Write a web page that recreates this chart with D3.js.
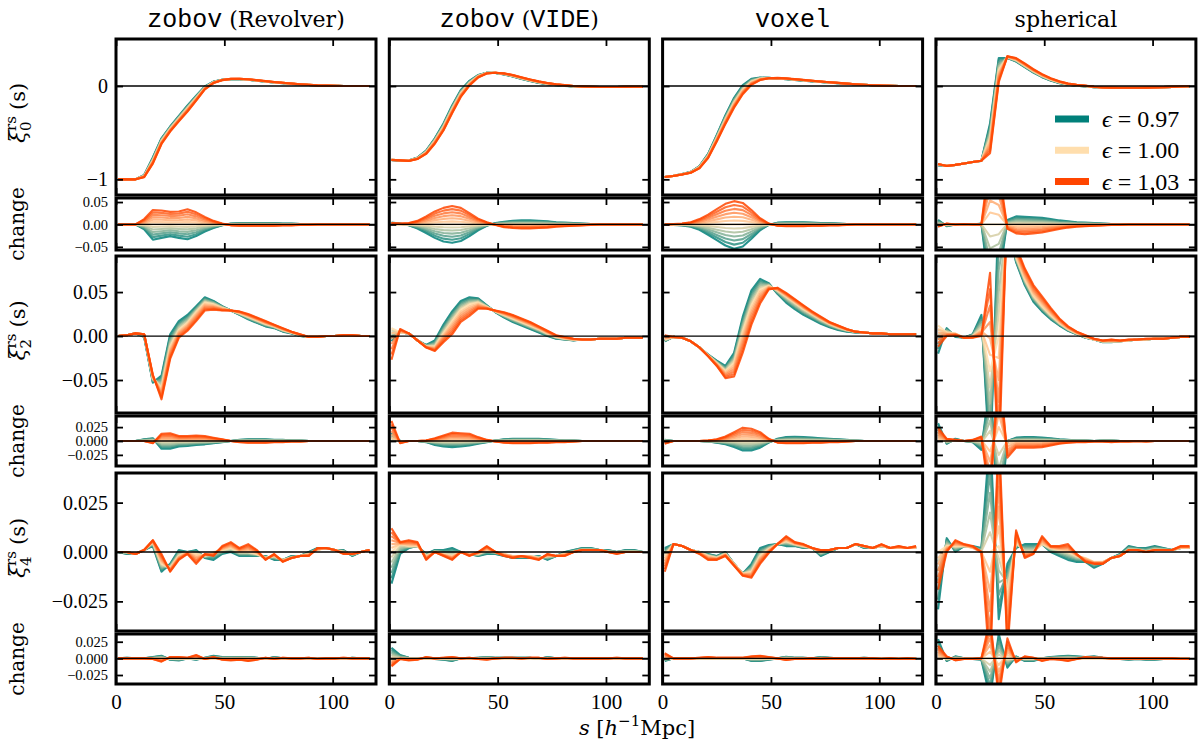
<!DOCTYPE html>
<html>
<head>
<meta charset="utf-8">
<script src="https://cdn.jsdelivr.net/npm/d3@7"></script>
<style>
  body { margin: 0; background: #fff; }
</style>
</head>
<body>
<svg id="chart" width="1200" height="745"></svg>
<script>
// ---- data ----
const sBins = [1, 5, 9, 13, 17, 21, 25, 29, 33, 37, 41, 45, 49, 53, 57, 61, 65, 69, 73, 77, 81, 85, 89, 93, 97, 101, 105, 109, 113, 117];
const epsilons = [0.97, 0.975, 0.98, 0.985, 0.99, 0.995, 1.0, 1.005, 1.01, 1.015, 1.02, 1.025, 1.03];
const legendEps = [0.97, 1.00, 1.03];
const estimators = ['revolver', 'vide', 'voxel', 'spherical'];
const xTicks = [0, 50, 100];

// monopole, eps = 1 curve and change at eps = 1.03 / 0.97
const xi0Revolver = [-1.0, -1.0, -1.0, -0.965, -0.80, -0.59, -0.46, -0.35, -0.24, -0.13, -0.02, 0.04, 0.065, 0.075, 0.075, 0.07, 0.06, 0.05, 0.04, 0.033, 0.025, 0.018, 0.012, 0.007, 0.004, 0.002, 0.001, 0, 0, 0];
const dxi0RevolverHi = [0, 0, 0, 0.012, 0.032, 0.031, 0.028, 0.029, 0.034, 0.027, 0.017, 0.008, 0.002, -0.002, -0.003, -0.003, -0.003, -0.003, -0.003, -0.002, -0.002, -0.001, -0.001, 0, 0, 0, 0, 0, 0, 0];
const dxi0RevolverLo = [0, 0, 0, -0.011, -0.034, -0.03, -0.026, -0.03, -0.033, -0.026, -0.016, -0.008, -0.002, 0.002, 0.003, 0.003, 0.003, 0.003, 0.003, 0.002, 0.002, 0.001, 0.001, 0, 0, 0, 0, 0, 0, 0];

const xi0Vide = [-0.79, -0.795, -0.80, -0.775, -0.71, -0.59, -0.44, -0.25, -0.08, 0.03, 0.105, 0.14, 0.142, 0.13, 0.11, 0.085, 0.062, 0.042, 0.026, 0.014, 0.006, -0.002, -0.006, -0.009, -0.01, -0.01, -0.01, -0.009, -0.008, -0.007];
const dxi0VideHi = [0.003, 0.002, 0.003, 0.008, 0.018, 0.029, 0.037, 0.041, 0.037, 0.025, 0.013, 0.005, -0.001, -0.006, -0.008, -0.009, -0.009, -0.008, -0.007, -0.005, -0.004, -0.003, -0.002, -0.001, 0, 0, 0, 0, 0, 0];
const dxi0VideLo = [0.004, 0.002, -0.002, -0.009, -0.019, -0.03, -0.038, -0.041, -0.037, -0.026, -0.013, -0.003, 0.003, 0.006, 0.008, 0.009, 0.009, 0.008, 0.007, 0.005, 0.004, 0.003, 0.002, 0.001, 0, 0, 0, 0, 0, 0];

const xi0Voxel = [-0.975, -0.963, -0.946, -0.925, -0.87, -0.75, -0.56, -0.36, -0.18, -0.04, 0.045, 0.078, 0.086, 0.084, 0.078, 0.07, 0.062, 0.054, 0.046, 0.039, 0.032, 0.025, 0.019, 0.013, 0.008, 0.005, 0.002, 0.001, 0, 0];
const dxi0VoxelHi = [0, 0.001, 0.002, 0.005, 0.012, 0.022, 0.034, 0.046, 0.052, 0.048, 0.032, 0.014, 0.002, -0.003, -0.004, -0.004, -0.004, -0.003, -0.003, -0.002, -0.002, -0.001, 0, 0, 0, 0, 0, 0, 0, 0];
const dxi0VoxelLo = [0, -0.001, -0.002, -0.005, -0.012, -0.023, -0.035, -0.047, -0.054, -0.049, -0.032, -0.013, -0.001, 0.004, 0.005, 0.005, 0.005, 0.004, 0.003, 0.003, 0.002, 0.001, 0.001, 0, 0, 0, 0, 0, 0, 0];

const xi0Spherical = [-0.84, -0.855, -0.845, -0.83, -0.815, -0.80, -0.56, 0.17, 0.31, 0.28, 0.22, 0.16, 0.11, 0.07, 0.04, 0.02, 0.008, 0, -0.01, -0.016, -0.018, -0.019, -0.019, -0.018, -0.017, -0.015, -0.012, -0.009, -0.005, -0.002];
const dxi0SphericalHi = [-0.005, 0.002, 0, 0.001, 0, 0, 0.16, 0.13, -0.01, -0.02, -0.022, -0.02, -0.018, -0.014, -0.01, -0.007, -0.005, -0.004, -0.003, -0.002, -0.001, -0.001, 0, 0, 0, 0, 0, 0, 0, 0];
const dxi0SphericalLo = [0.01, -0.004, 0, 0, 0, 0.002, -0.16, -0.13, 0.01, 0.018, 0.017, 0.016, 0.015, 0.012, 0.009, 0.007, 0.005, 0.004, 0.003, 0.002, 0.001, 0, 0, 0, 0, 0, 0, 0, 0, 0];

// quadrupole
const xi2Revolver = [0.0, 0.001, 0.003, 0.002, -0.048, -0.059, -0.012, 0.007, 0.015, 0.027, 0.038, 0.036, 0.032, 0.029, 0.026, 0.022, 0.018, 0.014, 0.011, 0.007, 0.004, 0.001, -0.001, -0.001, 0, 0, 0.001, 0.001, 0, 0];
const dxi2RevolverHi = [0, 0, 0, 0, -0.004, 0.013, 0.014, 0.009, 0.009, 0.01, 0.009, 0.006, 0.003, 0, -0.002, -0.003, -0.003, -0.003, -0.002, -0.002, -0.001, -0.001, 0, 0, 0, 0, 0, 0, 0, 0];
const dxi2RevolverLo = [0, 0, 0, 0.003, 0.005, -0.014, -0.014, -0.01, -0.009, -0.007, -0.006, -0.004, -0.002, 0, 0.002, 0.003, 0.003, 0.003, 0.002, 0.002, 0.001, 0.001, 0, 0, 0, 0, 0, 0, 0, 0];

const xi2Vide = [0.009, 0.004, 0.003, -0.005, -0.012, -0.012, 0.003, 0.017, 0.03, 0.036, 0.038, 0.033, 0.028, 0.024, 0.02, 0.016, 0.012, 0.008, 0.003, -0.001, -0.003, -0.004, -0.004, -0.004, -0.003, -0.003, -0.003, -0.002, -0.002, -0.002];
const dxi2VideHi = [0.036, -0.004, 0, 0, 0.001, 0.005, 0.01, 0.015, 0.014, 0.013, 0.007, 0.002, -0.001, -0.003, -0.004, -0.004, -0.004, -0.003, -0.003, -0.002, -0.002, -0.001, 0, 0, 0, 0, 0, 0, 0, 0];
const dxi2VideLo = [0.015, 0, 0, 0, -0.002, -0.007, -0.01, -0.011, -0.01, -0.008, -0.005, -0.002, 0.001, 0.003, 0.004, 0.004, 0.004, 0.004, 0.003, 0.002, 0.001, 0.001, 0, 0, 0, 0, 0, 0, 0, 0];

const xi2Voxel = [-0.004, -0.001, -0.002, -0.006, -0.013, -0.022, -0.031, -0.04, -0.03, 0.005, 0.035, 0.053, 0.057, 0.052, 0.045, 0.038, 0.031, 0.025, 0.019, 0.014, 0.01, 0.007, 0.005, 0.004, 0.003, 0.003, 0.002, 0.002, 0.002, 0.002];
const dxi2VoxelHi = [-0.005, 0, 0, 0, 0, 0.001, 0.003, 0.008, 0.016, 0.024, 0.022, 0.016, 0.004, -0.003, -0.004, -0.004, -0.004, -0.003, -0.003, -0.002, -0.002, -0.001, 0, 0, 0, 0, 0, 0, 0, 0];
const dxi2VoxelLo = [0.002, 0, 0, 0, 0, -0.001, -0.003, -0.006, -0.011, -0.017, -0.017, -0.012, -0.003, 0.004, 0.007, 0.0075, 0.007, 0.006, 0.005, 0.004, 0.003, 0.002, 0.001, 0, 0, 0, 0, 0, 0, 0];

const xi2Spherical = [0.012, 0.004, 0.003, -0.002, 0.0, 0.008, -0.04, 0.0, 0.13, 0.09, 0.065, 0.046, 0.034, 0.024, 0.015, 0.008, 0.003, -0.001, -0.004, -0.006, -0.006, -0.006, -0.005, -0.004, -0.004, -0.003, -0.003, -0.002, -0.001, -0.001];
const dxi2SphericalHi = [0.024, 0.004, 0.002, 0, 0.002, 0.008, -0.112, 0.15, -0.03, -0.012, -0.012, -0.012, -0.011, -0.008, -0.005, -0.003, -0.002, -0.002, -0.001, -0.001, -0.002, -0.001, -0.001, 0, -0.001, 0, 0, 0, 0, 0];
const dxi2SphericalLo = [0.032, -0.005, 0.004, 0, -0.002, -0.016, 0.11, -0.15, 0.0, 0.006, 0.007, 0.007, 0.006, 0.005, 0.003, 0.002, 0.001, 0.001, 0, 0.001, 0.001, 0, 0, 0, 0, 0, 0, 0, 0, 0];

// hexadecapole
const xi4Revolver = [0.0, 0.0, -0.001, 0.001, 0.005, -0.006, -0.008, -0.002, 0.0, -0.001, -0.002, 0.0, 0.001, 0.002, 0.0, 0.0, -0.001, -0.003, -0.002, -0.004, -0.003, -0.002, -0.001, 0.001, 0.002, 0.001, 0.0, -0.001, 0.0, 0.001];
const dxi4RevolverHi = [0, 0, 0, 0, -0.001, -0.005, 0.002, 0.002, 0.001, 0.005, -0.001, 0.002, -0.002, -0.003, -0.002, -0.004, -0.002, 0.001, -0.001, 0.001, 0, 0, 0.001, -0.001, 0, 0, 0.001, 0, 0, 0];
const dxi4RevolverLo = [0, 0.001, 0, 0, 0.002, 0.004, -0.002, -0.003, 0, -0.002, 0.001, 0.004, 0.002, 0.002, 0.002, 0.002, 0.001, -0.001, 0.002, 0, -0.001, 0, -0.001, -0.001, 0, 0, -0.001, 0.001, 0, 0];

const xi4Vide = [0.0, 0.004, 0.003, 0.003, -0.002, 0.0, -0.001, -0.002, 0.0, -0.001, -0.001, 0.001, 0.0, -0.001, -0.002, -0.002, -0.002, -0.003, -0.002, -0.002, -0.001, 0.0, 0.001, 0.001, 0.001, 0.0, 0.0, 0.0, 0.0, 0.0];
const dxi4VideHi = [-0.012, -0.001, -0.003, -0.002, 0.002, 0, 0.001, 0.002, 0, 0.001, -0.001, -0.002, 0, 0.001, 0.001, 0, 0.001, 0.001, -0.001, 0, 0.001, 0, 0, 0, 0, 0, 0.001, 0, 0, 0];
const dxi4VideLo = [0.016, 0.005, 0.001, 0, -0.001, -0.001, -0.002, -0.004, 0, 0, 0.001, 0.002, 0.001, 0.001, 0.001, 0.001, 0.001, -0.001, 0.002, 0, -0.001, -0.001, -0.001, -0.001, 0, -0.001, 0, -0.001, -0.001, 0];

const xi4Voxel = [-0.002, 0.004, 0.003, 0.001, 0.0, -0.002, -0.003, -0.001, -0.006, -0.011, -0.01, -0.002, 0.0015, 0.004, 0.0055, 0.004, 0.003, 0.002, 0.0, 0.001, 0.002, 0.002, 0.004, 0.003, 0.002, 0.003, 0.002, 0.002, 0.002, 0.002];
const dxi4VoxelHi = [0.008, 0, 0, 0, 0.001, 0.002, 0.001, 0.001, 0.001, 0.001, 0.003, 0.004, 0.002, 0, -0.0025, -0.001, -0.001, 0, -0.001, 0, 0, 0, 0, 0, 0, -0.001, 0, -0.001, 0, -0.001];
const dxi4VoxelLo = [-0.004, 0, 0, 0, 0, -0.001, -0.001, -0.001, 0, 0, -0.004, -0.004, -0.002, 0, 0.0025, 0.001, 0.001, 0, 0.002, 0.001, 0, 0, 0, 0.001, 0, 0, 0, 0, 0, 0];

const xi4Spherical = [0.0, 0.003, 0.003, 0.003, 0.002, 0.0, 0.0, 0.003, -0.02, 0.005, 0.0, 0.0, 0.004, 0.002, 0.001, 0.0, -0.002, -0.003, -0.005, -0.005, -0.003, -0.002, 0.001, 0.001, 0.0, 0.001, 0.001, 0.001, 0.002, 0.002];
const dxi4SphericalHi = [0.019, 0.003, -0.003, -0.001, -0.001, 0.0, 0.06, -0.06, 0.03, -0.006, 0.003, 0.001, -0.004, -0.001, -0.002, -0.004, -0.001, 0.002, 0.001, 0.001, 0, 0, 0, 0, 0, 0, 0, 0, -0.001, -0.001];
const dxi4SphericalLo = [0.029, -0.004, 0.003, 0.0, -0.001, -0.002, -0.06, 0.037, -0.014, 0.003, -0.004, -0.004, 0.0, 0.002, 0.003, 0.004, 0.003, 0.002, 0.003, 0.001, 0, -0.001, -0.002, -0.001, -0.002, -0.002, -0.001, 0, 0, 0];

// tick values per row
const xi0Ticks = [-1, 0];
const chg0Ticks = [-0.05, 0, 0.05];
const xi2Ticks = [-0.05, 0, 0.05];
const chg2Ticks = [-0.025, 0, 0.025];
const xi4Ticks = [-0.025, 0, 0.025];
const chg4Ticks = [-0.025, 0, 0.025];

// lookup table built from the arrays above
const multipoleSets = [
    {
        revolver: {base: xi0Revolver, hi: dxi0RevolverHi, lo: dxi0RevolverLo},
        vide: {base: xi0Vide, hi: dxi0VideHi, lo: dxi0VideLo},
        voxel: {base: xi0Voxel, hi: dxi0VoxelHi, lo: dxi0VoxelLo},
        spherical: {base: xi0Spherical, hi: dxi0SphericalHi, lo: dxi0SphericalLo},
    },
    {
        revolver: {base: xi2Revolver, hi: dxi2RevolverHi, lo: dxi2RevolverLo},
        vide: {base: xi2Vide, hi: dxi2VideHi, lo: dxi2VideLo},
        voxel: {base: xi2Voxel, hi: dxi2VoxelHi, lo: dxi2VoxelLo},
        spherical: {base: xi2Spherical, hi: dxi2SphericalHi, lo: dxi2SphericalLo},
    },
    {
        revolver: {base: xi4Revolver, hi: dxi4RevolverHi, lo: dxi4RevolverLo},
        vide: {base: xi4Vide, hi: dxi4VideHi, lo: dxi4VideLo},
        voxel: {base: xi4Voxel, hi: dxi4VoxelHi, lo: dxi4VoxelLo},
        spherical: {base: xi4Spherical, hi: dxi4SphericalHi, lo: dxi4SphericalLo},
    },
];

// ---- layout ----
const NUM = '"Liberation Serif", "Times New Roman", serif';
const WORD = '"DejaVu Serif", serif';
const MONO = '"Liberation Mono", "DejaVu Sans Mono", monospace';
const panelLeft = 116;
const panelW = 260;
const panelPitch = 273.3;

const rows = [
    {y0: 39, y1: 195, domain: [-1.168, 0.504], ticks: xi0Ticks, fmt: d3.format('d'), font: 20, kind: 'main', ell: 0},
    {y0: 198, y1: 250, domain: [-0.057, 0.059], ticks: chg0Ticks, fmt: d3.format('.2f'), font: 14.5, kind: 'change', ell: 0},
    {y0: 256, y1: 413, domain: [-0.0875, 0.091], ticks: xi2Ticks, fmt: d3.format('.2f'), font: 20, kind: 'main', ell: 1},
    {y0: 416, y1: 466, domain: [-0.045, 0.045], ticks: chg2Ticks, fmt: d3.format('.3f'), font: 14.5, kind: 'change', ell: 1},
    {y0: 473, y1: 631, domain: [-0.04, 0.04], ticks: xi4Ticks, fmt: d3.format('.3f'), font: 20, kind: 'main', ell: 2},
    {y0: 634, y1: 684, domain: [-0.0385, 0.0366], ticks: chg4Ticks, fmt: d3.format('.3f'), font: 14.5, kind: 'change', ell: 2},
];

const epsColor = d3.scaleLinear()
    .domain([0.97, 1.0, 1.03])
    .range(['#00807a', '#ffdead', '#ff4500']);

const svg = d3.select('#chart');

// change at a given epsilon, scaled from the read extreme curve
const changeAt = (set, eps) => {
    const t = (eps - 1) / 0.03;
    const ref = t >= 0 ? set.hi : set.lo;
    return ref.map(v => Math.abs(t) * v);
};

const addPanel = (col, rowIdx) => {
    const row = rows[rowIdx];
    const left = panelLeft + col * panelPitch;
    const x = d3.scaleLinear().domain([0, 120]).range([left, left + panelW]);
    const y = d3.scaleLinear().domain(row.domain).range([row.y1, row.y0]);
    const set = multipoleSets[row.ell][estimators[col]];

    const clipId = `clip-${col}-${rowIdx}`;
    svg.append('clipPath').attr('id', clipId)
        .append('rect')
        .attr('x', left).attr('y', row.y0)
        .attr('width', panelW).attr('height', row.y1 - row.y0);

    const g = svg.append('g').attr('clip-path', `url(#${clipId})`);
    const line = d3.line().x(d => x(d[0])).y(d => y(d[1]));

    epsilons.forEach((eps) => {
        const chg = changeAt(set, eps);
        const vals = row.kind === 'main' ? set.base.map((v, i) => v - chg[i]) : chg;
        g.append('path')
            .datum(sBins.map((s, i) => [s, vals[i]]))
            .attr('d', line)
            .attr('fill', 'none')
            .attr('stroke', epsColor(eps))
            .attr('stroke-width', 2.1)
            .attr('stroke-opacity', 0.85)
            .attr('stroke-linejoin', 'round');
    });

    // zero line
    g.append('line')
        .attr('x1', left).attr('x2', left + panelW)
        .attr('y1', y(0)).attr('y2', y(0))
        .attr('stroke', '#000').attr('stroke-width', 1.3);

    // inward ticks on every side
    const styleAxis = (sel) => {
        sel.select('.domain').remove();
        sel.selectAll('.tick line').attr('stroke', '#000').attr('stroke-width', 1.8);
        sel.selectAll('.tick text').attr('fill', '#000').style('font-family', NUM);
    };

    const leftAxis = d3.axisLeft(y).tickValues(row.ticks).tickSizeInner(-7).tickSizeOuter(0).tickPadding(8)
        .tickFormat(col === 0 ? row.fmt : '');
    svg.append('g').attr('transform', `translate(${left},0)`).call(leftAxis).call(styleAxis)
        .selectAll('.tick text').style('font-size', `${row.font}px`);

    const rightAxis = d3.axisRight(y).tickValues(row.ticks).tickSizeInner(-7).tickSizeOuter(0).tickFormat('');
    svg.append('g').attr('transform', `translate(${left + panelW},0)`).call(rightAxis).call(styleAxis);

    const topAxis = d3.axisTop(x).tickValues(xTicks).tickSizeInner(-7).tickSizeOuter(0).tickFormat('');
    svg.append('g').attr('transform', `translate(0,${row.y0})`).call(topAxis).call(styleAxis);

    const bottomAxis = d3.axisBottom(x).tickValues(xTicks).tickSizeInner(-7).tickSizeOuter(0).tickPadding(10)
        .tickFormat(rowIdx === rows.length - 1 ? d3.format('d') : '');
    svg.append('g').attr('transform', `translate(0,${row.y1})`).call(bottomAxis).call(styleAxis)
        .selectAll('.tick text').style('font-size', '21px');

    // frame
    svg.append('rect')
        .attr('x', left).attr('y', row.y0)
        .attr('width', panelW).attr('height', row.y1 - row.y0)
        .attr('fill', 'none').attr('stroke', '#000').attr('stroke-width', 3);
};

rows.forEach((row, r) => estimators.forEach((est, c) => addPanel(c, r)));

// ---- column titles ----
const titleParts = [
    [['zobov', MONO], [' (Revolver)', WORD]],
    [['zobov', MONO], [' (', WORD], ['VIDE', MONO], [')', WORD]],
    [['voxel', MONO]],
    [['spherical', WORD]],
];
titleParts.forEach((parts, c) => {
    const t = svg.append('text')
        .attr('x', panelLeft + c * panelPitch + panelW / 2)
        .attr('y', 27)
        .attr('text-anchor', 'middle');
    parts.forEach(([txt, fam]) => {
        t.append('tspan').text(txt).style('font-family', fam)
            .style('font-size', fam === MONO ? '25px' : '22px')
            .attr('xml:space', 'preserve');
    });
});

// ---- row labels ----
rows.forEach((row) => {
    const yc = (row.y0 + row.y1) / 2;
    if (row.kind === 'change') {
        svg.append('text')
            .attr('transform', `translate(24,${yc}) rotate(-90)`)
            .attr('text-anchor', 'middle')
            .style('font-family', WORD).style('font-size', '20px')
            .text('change');
    } else {
        const lab = svg.append('g').attr('transform', `translate(25,${yc}) rotate(-90)`)
            .style('font-family', WORD);
        lab.append('text').attr('x', -26).attr('y', 0)
            .style('font-size', '22px').style('font-style', 'italic').text('ξ');
        lab.append('text').attr('x', -14).attr('y', -9)
            .style('font-size', '15px').text('rs');
        lab.append('text').attr('x', -14).attr('y', 6)
            .style('font-size', '15px').text(row.ell * 2);
        lab.append('text').attr('x', 7).attr('y', 0)
            .style('font-size', '21px').text('(s)');
    }
});

// ---- x label ----
const xl = svg.append('text')
    .attr('x', 637).attr('y', 735)
    .attr('text-anchor', 'middle')
    .style('font-family', WORD).style('font-size', '21px');
xl.append('tspan').style('font-style', 'italic').text('s');
xl.append('tspan').attr('xml:space', 'preserve').text(' [');
xl.append('tspan').style('font-style', 'italic').text('h');
xl.append('tspan').attr('dy', -9).style('font-size', '15px').text('−1');
xl.append('tspan').attr('dy', 9).text('Mpc]');

// ---- legend ----
const legend = svg.append('g');
legendEps.forEach((eps, i) => {
    const ly = 119 + i * 31.3;
    legend.append('line')
        .attr('x1', 1055).attr('x2', 1089)
        .attr('y1', ly).attr('y2', ly)
        .attr('stroke', epsColor(eps)).attr('stroke-width', 7);
    const t = legend.append('text')
        .attr('x', 1102).attr('y', ly + 8)
        .style('font-family', NUM).style('font-size', '24px');
    t.append('tspan').style('font-style', 'italic').text('ϵ');
    t.append('tspan').attr('xml:space', 'preserve').text(` = ${d3.format('.2f')(eps)}`);
});
</script>
</body>
</html>
